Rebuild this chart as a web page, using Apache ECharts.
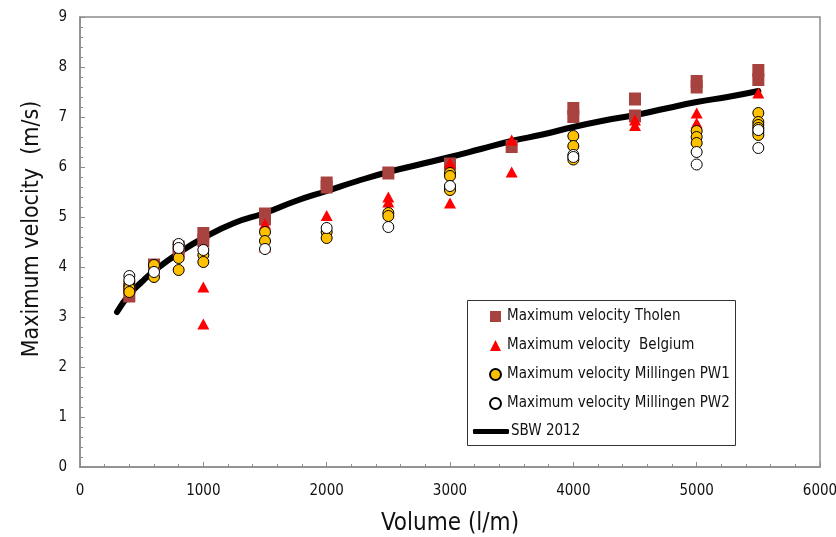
<!DOCTYPE html>
<html>
<head>
<meta charset="utf-8">
<script src="https://cdn.jsdelivr.net/npm/echarts@6/dist/echarts.min.js"></script>
<style>
  html, body { margin: 0; padding: 0; background: #fff; }
  #chart { width: 836px; height: 537px; }
</style>
</head>
<body>
<div id="chart"></div>
<script>
// Maximum velocity (m/s) against overtopping volume (l/m)
const tholenVolume   = [400, 400, 600, 800, 800, 1000, 1000, 1500, 1500, 2000, 2000, 2500, 3000, 3500, 4000, 4000, 4500, 4500, 5000, 5000, 5500, 5500];
const tholenVelocity = [3.60, 3.42, 4.04, 4.40, 4.33, 4.67, 4.53, 5.06, 4.96, 5.68, 5.60, 5.88, 6.06, 6.41, 7.17, 7.01, 7.36, 7.02, 7.71, 7.60, 7.93, 7.75];

const belgiumVolume   = [1000, 1000, 1500, 1500, 2000, 2000, 2500, 2500, 3000, 3000, 3000, 3500, 3500, 4000, 4500, 4500, 5000, 5000, 5500, 5500];
const belgiumVelocity = [3.60, 2.86, 4.86, 4.40, 5.03, 4.80, 5.40, 5.30, 6.08, 5.70, 5.28, 6.54, 5.90, 6.50, 6.94, 6.83, 7.08, 6.88, 7.48, 6.90];

const pw1Volume   = [400, 400, 400, 600, 600, 800, 800, 1000, 1000, 1500, 1500, 2000, 2000, 2500, 2500, 3000, 3000, 3000, 3000, 4000, 4000, 4000, 5000, 5000, 5000, 5500, 5500, 5500, 5500, 5500, 5500];
const pw1Velocity = [3.64, 3.58, 3.50, 4.04, 3.80, 4.18, 3.94, 4.24, 4.10, 4.70, 4.52, 4.70, 4.58, 5.08, 5.02, 5.88, 5.82, 5.60, 5.54, 6.62, 6.42, 6.15, 6.72, 6.60, 6.48, 7.08, 6.90, 6.84, 6.78, 6.70, 6.64];

const pw2Volume   = [400, 400, 600, 800, 800, 1000, 1500, 2000, 2500, 3000, 4000, 4000, 5000, 5000, 5500, 5500];
const pw2Velocity = [3.82, 3.74, 3.90, 4.46, 4.38, 4.34, 4.36, 4.78, 4.80, 5.62, 6.24, 6.20, 6.30, 6.05, 6.74, 6.38];

const sbwVolume   = [300, 400, 500, 600, 800, 1000, 1250, 1500, 1750, 2000, 2250, 2500, 2750, 3000, 3250, 3500, 3750, 4000, 4250, 4500, 4750, 5000, 5250, 5500];
const sbwVelocity = [3.10, 3.45, 3.70, 3.92, 4.28, 4.58, 4.88, 5.08, 5.32, 5.52, 5.72, 5.90, 6.05, 6.20, 6.36, 6.52, 6.65, 6.80, 6.93, 7.04, 7.17, 7.30, 7.40, 7.52];

const xTicks = { min: 0, max: 6000, interval: 1000 };
const yTicks = { min: 0, max: 9, interval: 1 };

const pairs = (xs, ys) => xs.map((x, i) => [x, ys[i]]);

const FONT = '"DejaVu Sans Condensed", "Liberation Sans", sans-serif';
const AXIS_GREY = '#8c8c8c';

const chart = echarts.init(document.getElementById('chart'), null, { renderer: 'canvas' });

const axisCommon = {
  type: 'value',
  axisLine: { show: true, lineStyle: { color: AXIS_GREY, width: 1.5 } },
  axisTick: { show: true, inside: true, length: 5, lineStyle: { color: AXIS_GREY } },
  minorTick: { show: true, splitNumber: 5, length: 3, lineStyle: { color: AXIS_GREY } },
  splitLine: { show: false },
  axisLabel: { color: '#111', fontFamily: FONT, fontSize: 15, formatter: v => String(v) },
  nameLocation: 'middle',
  nameTextStyle: { color: '#111', fontFamily: FONT, fontSize: 24 }
};

chart.setOption({
  animation: false,
  backgroundColor: '#fff',
  grid: {
    left: 80, right: 16, top: 17, bottom: 70,
    outerBoundsMode: 'none',
    show: true, borderColor: AXIS_GREY, borderWidth: 1.5, backgroundColor: 'transparent'
  },
  xAxis: Object.assign({}, axisCommon, {
    min: xTicks.min, max: xTicks.max, interval: xTicks.interval,
    name: 'Volume (l/m)', nameGap: 45,
    axisLabel: Object.assign({}, axisCommon.axisLabel, { margin: 17 })
  }),
  yAxis: Object.assign({}, axisCommon, {
    min: yTicks.min, max: yTicks.max, interval: yTicks.interval,
    name: 'Maximum velocity  (m/s)', nameGap: 36,
    nameTextStyle: Object.assign({}, axisCommon.nameTextStyle, { fontSize: 23, padding: [0, 0, 0, 26] }),
    axisLabel: Object.assign({}, axisCommon.axisLabel, { margin: 13 })
  }),
  graphic: [{
    type: 'rect',
    shape: { x: 467.5, y: 300.5, width: 268, height: 145 },
    style: { fill: '#fff', stroke: '#333', lineWidth: 1 },
    z: 5
  }],
  legend: [{
    orient: 'vertical',
    left: 484, top: 304,
    itemWidth: 11, itemHeight: 11, itemGap: 14,
    textStyle: { color: '#111', fontFamily: FONT, fontSize: 15, padding: [0, 0, 0, 1] },
    data: ['Maximum velocity Tholen', 'Maximum velocity  Belgium', 'Maximum velocity Millingen PW1', 'Maximum velocity Millingen PW2'],
    z: 10
  }, {
    orient: 'vertical',
    left: 468, top: 419,
    itemWidth: 36, itemHeight: 5,
    textStyle: { color: '#111', fontFamily: FONT, fontSize: 15, padding: [0, 0, 0, -3] },
    data: [{ name: 'SBW 2012', icon: 'roundRect' }],
    z: 10
  }],
  series: [{
    name: 'SBW 2012',
    type: 'line',
    data: pairs(sbwVolume, sbwVelocity),
    showSymbol: false,
    smooth: true,
    lineStyle: { color: '#000', width: 6, cap: 'round', join: 'round' },
    itemStyle: { color: '#000' },
    z: 1
  }, {
    name: 'Maximum velocity Tholen',
    type: 'scatter',
    data: pairs(tholenVolume, tholenVelocity),
    symbol: 'rect',
    symbolSize: [12, 13],
    itemStyle: { color: '#A8423F', opacity: 1 },
    z: 2
  }, {
    name: 'Maximum velocity  Belgium',
    type: 'scatter',
    data: pairs(belgiumVolume, belgiumVelocity),
    symbol: 'triangle',
    symbolSize: [12, 11],
    itemStyle: { color: '#FF0000', opacity: 1 },
    z: 3
  }, {
    name: 'Maximum velocity Millingen PW1',
    type: 'scatter',
    data: pairs(pw1Volume, pw1Velocity),
    symbol: 'circle',
    symbolSize: 11,
    itemStyle: { color: '#FFC000', borderColor: '#000', borderWidth: 1, opacity: 1 },
    z: 4
  }, {
    name: 'Maximum velocity Millingen PW2',
    type: 'scatter',
    data: pairs(pw2Volume, pw2Velocity),
    symbol: 'circle',
    symbolSize: 11,
    itemStyle: { color: '#fff', borderColor: '#000', borderWidth: 1, opacity: 1 },
    z: 4
  }]
});
</script>
</body>
</html>
